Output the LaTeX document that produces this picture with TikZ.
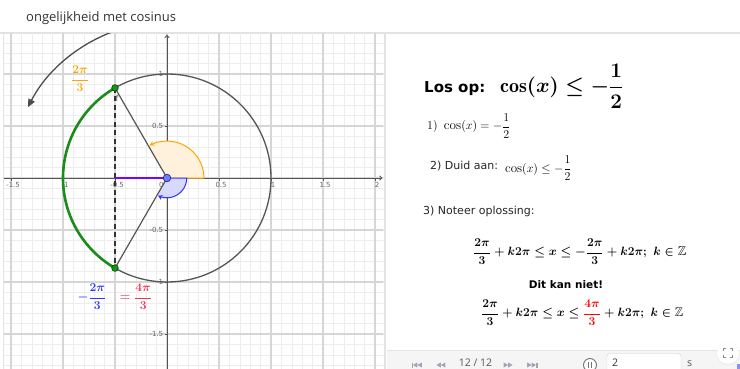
\documentclass[tikz,border=0pt]{standalone}
\usepackage{amsmath,amssymb}
\usepackage{fontspec}
\setsansfont{DejaVu Sans}
\newfontfamily\titlefont{Open Sans}
\usetikzlibrary{arrows.meta}
\definecolor{gridminor}{HTML}{EDEDED}
\definecolor{gridmajor}{HTML}{D6D6D6}
\definecolor{axiscol}{HTML}{555555}
\definecolor{ticktext}{HTML}{6A6A6A}
\definecolor{circcol}{HTML}{555555}
\definecolor{greencol}{HTML}{1A8C1A}
\definecolor{orangecol}{HTML}{FFA500}
\definecolor{orangefill}{HTML}{FFF1DC}
\definecolor{bluecol}{HTML}{3333FF}
\definecolor{bluefill}{HTML}{D7D9FF}
\definecolor{purplecol}{HTML}{8000FF}
\definecolor{redpink}{HTML}{E6385A}
\definecolor{titlecol}{HTML}{333333}
\definecolor{panelline}{HTML}{E3E3E3}
\definecolor{barbg}{HTML}{F5F5F5}
\definecolor{iconcol}{HTML}{A3A3B5}
\definecolor{ptgreen}{HTML}{119911}
\definecolor{ptgreendark}{HTML}{0A4A0A}
\definecolor{ptblue}{HTML}{6E7DFF}
\definecolor{ptbluedark}{HTML}{2B2B80}
\definecolor{bartext}{HTML}{555555}
\newcommand{\bfrac}[2]{{\displaystyle\frac{#1}{#2}}}
\tikzset{
  minorgrid/.style={draw=gridminor, line width=0.6pt},
  majorgrid/.style={draw=gridmajor, line width=1.1pt},
  axisline/.style={draw=axiscol, line width=0.9pt, -{To[length=3pt,width=5pt]}},
  ticklab/.style={font=\sffamily\fontsize{7}{8}\selectfont, text=ticktext, inner sep=0},
  circline/.style={draw=circcol, line width=1.3pt},
  radline/.style={draw=circcol, line width=1.2pt},
  dashseg/.style={draw=black!80, line width=1.3pt, dash pattern=on 5pt off 3.5pt},
  bigarrow/.style={draw=black!70, line width=1.3pt, -{Triangle[length=8pt,width=7pt]}},
  gpoint/.style={fill=ptgreen, draw=ptgreendark, line width=0.7pt},
  opoint/.style={fill=ptblue, draw=ptbluedark, line width=0.7pt},
  txt/.style={inner sep=0, text=black},
  icon/.style={fill=iconcol},
  bm13/.style={font=\fontsize{13}{15}\selectfont\boldmath},
  barfont/.style={font=\titlefont\fontsize{10.5}{12}\selectfont},
}
\begin{document}
\begin{tikzpicture}[x=1pt,y=-1pt]
\useasboundingbox (0,0) rectangle (740,369);
\fill[white] (0,0) rectangle (740,369);
% title
\node[txt, anchor=base west, font=\titlefont\fontsize{13}{15}\selectfont, text=titlecol] (title) at (26,22) {ongelijkheid met cosinus};
% panel lines
\draw[panelline, line width=1.2pt] (0,33) -- (740,33);
\draw[panelline, line width=1pt] (3,33) -- (3,369);
\draw[panelline, line width=1.5pt] (385,33) -- (385,369);
% graph
\begin{scope}[shift={(167,178)},x=104pt,y=104pt]
  \coordinate (O) at (0,0);
  \coordinate (P1) at (120:1);
  \coordinate (P2) at (240:1);
  \coordinate (H) at (-0.5,0);
  \begin{scope}
    \clip (-1.572,-1.84) rectangle (2.08,1.389);
    \foreach \i in {-16,...,21} \draw[minorgrid] (\i/10,-1.9) -- (\i/10,1.45);
    \foreach \j in {-19,...,14} \draw[minorgrid] (-1.6,\j/10) -- (2.1,\j/10);
    \foreach \i in {-3,...,4} \draw[majorgrid] (\i/2,-1.9) -- (\i/2,1.45);
    \foreach \j in {-3,...,2} \draw[majorgrid] (-1.6,\j/2) -- (2.1,\j/2);
    \draw[bigarrow] (110:1.5) arc (110:153:1.5);
  \end{scope}
  % axes
  \draw[axisline] (-1.57,0) -- (2.07,0);
  \draw[axisline] (0,-1.84) -- (0,1.375);
  \foreach \v in {-1.5,-1,-0.5,0.5,1,1.5,2} \draw[axiscol, line width=0.6pt] (\v,0) -- ++(0,-2.5pt);
  \foreach \v in {-1.5,-1,-0.5,0.5,1} \draw[axiscol, line width=0.6pt] (0,\v) -- ++(-2.5pt,0);
  % tick labels
  \foreach \v/\t in {-1.5/-1.5,-1/-1,-0.5/-0.5,0.5/0.5,1/1,1.5/1.5,2/2}
    \node[ticklab] at (\v+0.02,-0.07) {\t};
  \node[ticklab] at (-0.055,-0.07) {0};
  \foreach \v/\t in {0.5/0.5,1/1,-0.5/-0.5,-1/-1,-1.5/-1.5}
    \node[ticklab, anchor=east] at (-0.035,\v) {\t};
  % angle sectors
  \fill[orangefill] (O) -- (0.355,0) arc (0:120:0.355) -- cycle;
  \draw[orangecol, line width=1pt, -{Stealth[length=4.5pt,width=5pt]}] (O) -- (0.355,0) arc (0:118:0.355);
  \fill[bluefill] (O) -- (0.19,0) arc (0:-120:0.19) -- cycle;
  \draw[bluecol, line width=1pt, -{Stealth[length=4.5pt,width=5pt]}] (O) -- (0.19,0) arc (0:-117:0.19);
  % circle and arc
  \draw[circline] (O) circle (1);
  \draw[greencol, line width=2.6pt] (P1) arc (120:240:1);
  \draw[dashseg] (P1) -- (P2);
  \draw[purplecol, line width=2pt] (H) -- (O);
  \draw[radline] (O) -- (P1);
  \draw[radline] (O) -- (P2);
  \draw[gpoint] (P1) circle (3.3pt);
  \draw[gpoint] (P2) circle (3.3pt);
  \draw[opoint] (O) circle (3.8pt);
  \node[txt, font=\sffamily\fontsize{8}{9}\selectfont, text=black!70] (flab) at (-0.48,0.76) {f};
\end{scope}
% fraction labels
\node[txt, bm13, text=orangecol] (lab1) at (80,79) {$\bfrac{2\pi}{3}$};
\node[txt, bm13, text=bluecol] (lab2) at (92,297) {$-\bfrac{2\pi}{3}$};
\node[txt, bm13, text=redpink] (lab3) at (136,297) {$=\bfrac{4\pi}{3}$};
% right panel
\node[txt, anchor=base west, font=\sffamily\bfseries\fontsize{15}{18}\selectfont] (losop) at (424,93) {Los op:};
\node[txt, anchor=base west, font=\fontsize{20}{23}\selectfont\boldmath] (eq0) at (500,93) {$\cos(x)\leq-\bfrac{1}{2}$};
\node[txt, anchor=base west, font=\fontsize{13.2}{15}\selectfont] (s1) at (427,130) {$1)\ \cos(x)=-\bfrac{1}{2}$};
\node[txt, anchor=base west, font=\sffamily\fontsize{11}{13}\selectfont, text=black!85] (s2) at (430,169) {2) Duid aan:};
\node[txt, anchor=base west, font=\fontsize{13}{15}\selectfont] (s2m) at (505,172) {$\cos(x)\leq-\bfrac{1}{2}$};
\node[txt, anchor=base west, font=\sffamily\fontsize{11}{13}\selectfont, text=black!85] (s3) at (423,214) {3) Noteer oplossing:};
\node[txt, anchor=west, font=\fontsize{12.9}{15}\selectfont\boldmath] (eq1) at (473,252) {$\bfrac{2\pi}{3}+k2\pi\leq x\leq-\bfrac{2\pi}{3}+k2\pi;\ k\in\mathbb{Z}$};
\node[txt, font=\sffamily\bfseries\fontsize{10.5}{12}\selectfont] (dkn) at (566,285) {Dit kan niet!};
\node[txt, anchor=west, font=\fontsize{12.6}{15}\selectfont\boldmath] (eq2) at (481,313) {$\bfrac{2\pi}{3}+k2\pi\leq x\leq{\color{red}\bfrac{4\pi}{3}}+k2\pi;\ k\in\mathbb{Z}$};
% toolbar
\fill[barbg] (387,350) rectangle (740,369);
\draw[panelline] (387,350) -- (740,350);
\fill[icon] (411.5,362.5) rectangle (412.8,367.5);
\fill[icon] (417.3,362.5) -- (412.9,365) -- (417.3,367.5) -- cycle;
\fill[icon] (421.8,362.5) -- (417.4,365) -- (421.8,367.5) -- cycle;
\fill[icon] (440.8,362.5) -- (436.4,365) -- (440.8,367.5) -- cycle;
\fill[icon] (445.3,362.5) -- (440.9,365) -- (445.3,367.5) -- cycle;
\fill[icon] (503.7,362.5) -- (508.1,365) -- (503.7,367.5) -- cycle;
\fill[icon] (508.2,362.5) -- (512.6,365) -- (508.2,367.5) -- cycle;
\fill[icon] (527.2,362.5) -- (531.6,365) -- (527.2,367.5) -- cycle;
\fill[icon] (531.7,362.5) -- (536.1,365) -- (531.7,367.5) -- cycle;
\fill[icon] (536.2,362.5) rectangle (537.5,367.5);
\node[txt, anchor=base, barfont, text=bartext] (count) at (475.5,366.5) {12 / 12};
\draw[black!55, line width=0.9pt, fill=white] (590,365) circle (6.5pt);
\fill[black!55] (587.6,361.8) rectangle (589.2,368.2);
\fill[black!55] (590.8,361.8) rectangle (592.4,368.2);
\draw[black!18, fill=white, rounded corners=3pt] (607,353.5) rectangle (681,372);
\node[txt, anchor=base west, barfont, text=black!80] (inp) at (612,366.5) {2};
\node[txt, anchor=base west, barfont, text=bartext] (sec) at (687,366.5) {s};
\fill[black!8] (728,353.6) circle (11.5pt);
\fill[white] (728,353) circle (11pt);
\begin{scope}[black!45, line width=1pt]
\draw (723.5,351) -- (723.5,348.5) -- (726,348.5);
\draw (730,348.5) -- (732.5,348.5) -- (732.5,351);
\draw (723.5,355) -- (723.5,357.5) -- (726,357.5);
\draw (730,357.5) -- (732.5,357.5) -- (732.5,355);
\end{scope}
\fill[blue!45!white] (737,364) rectangle (740,369);
\end{tikzpicture}
\end{document}
